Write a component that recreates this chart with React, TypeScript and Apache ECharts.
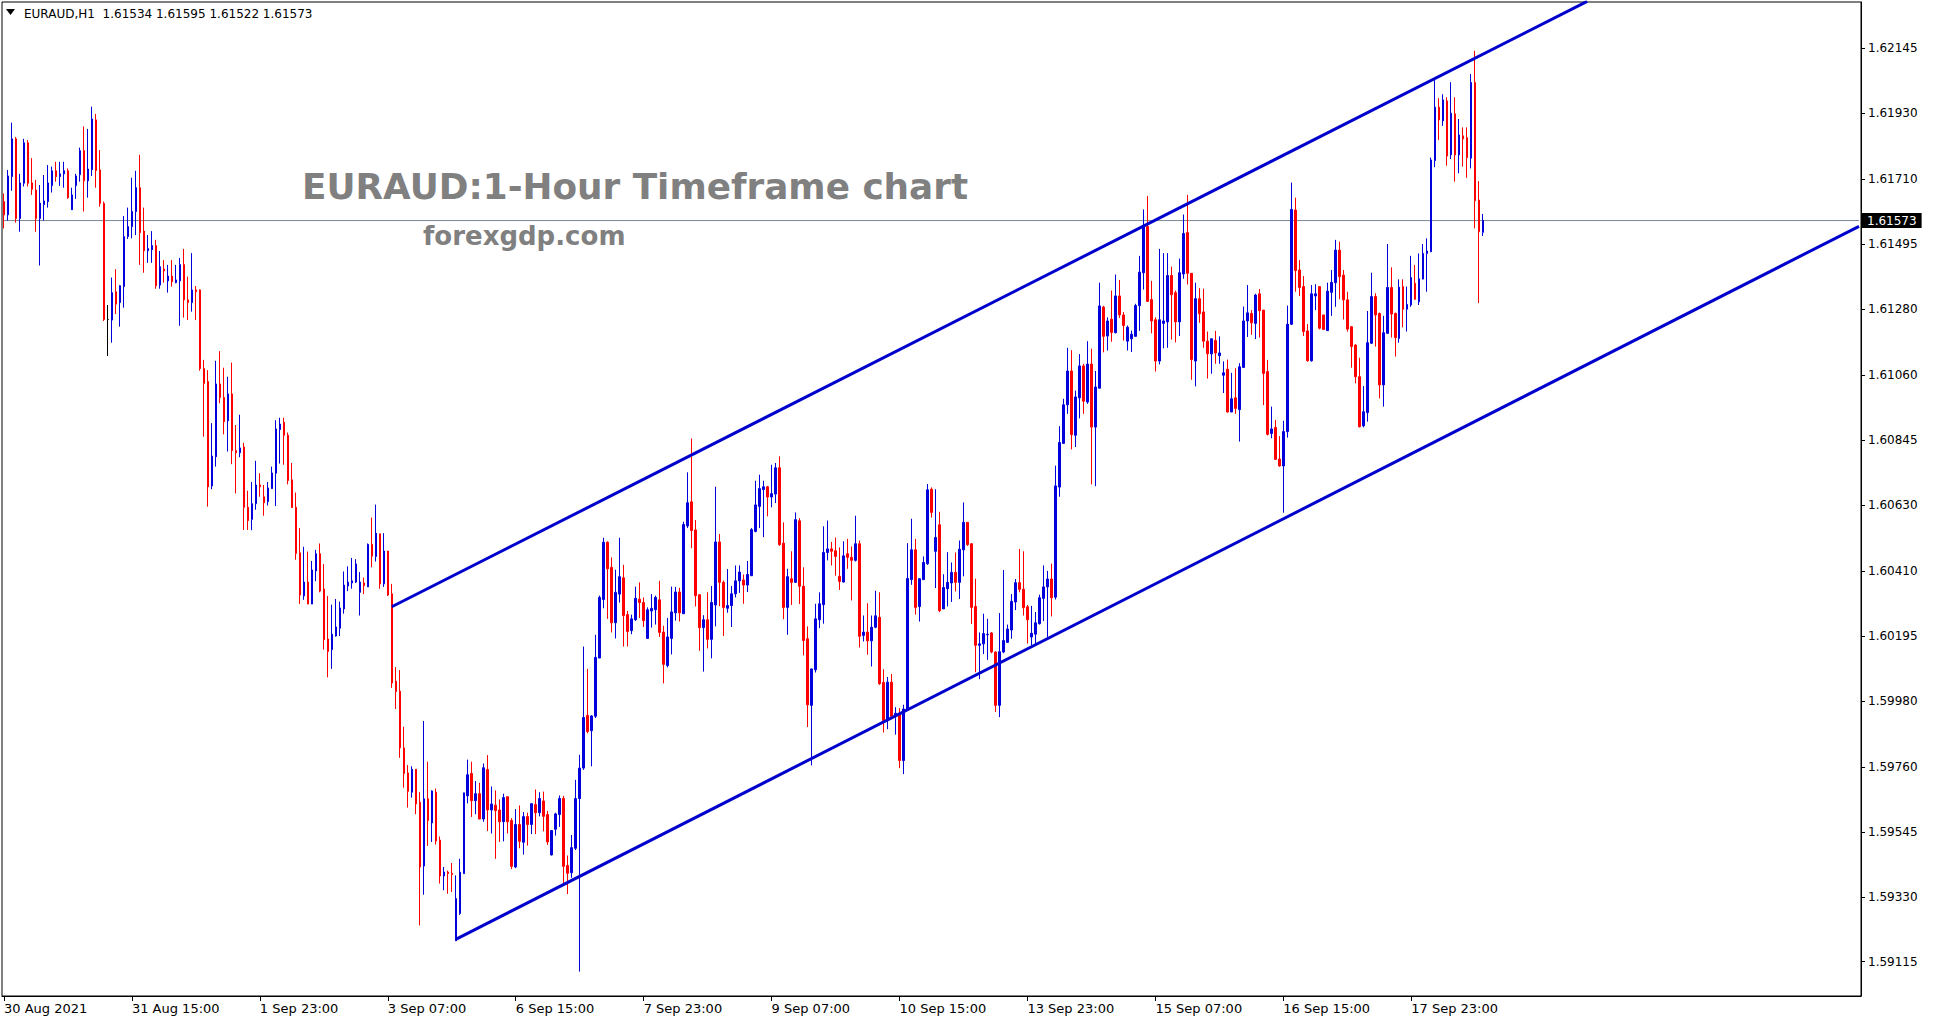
import React, { useEffect, useRef } from "react";
import * as echarts from "echarts";

// ---- OHLC data, one tuple per H1 bar: [open, high, low, close] ----
const week1: number[][] = [
  [1.61636,1.61663,1.61547,1.61592],[1.61592,1.61741,1.61573,1.61721],[1.61719,1.61898,1.61672,1.61844],[1.61844,1.61850,1.61566,1.61580],
  [1.61580,1.61728,1.61536,1.61698],[1.61697,1.61844,1.61686,1.61831],[1.61831,1.61840,1.61686,1.61697],[1.61698,1.61780,1.61658,1.61677],
  [1.61674,1.61708,1.61536,1.61580],[1.61580,1.61691,1.61424,1.61631],[1.61626,1.61724,1.61573,1.61638],[1.61636,1.61757,1.61616,1.61698],
  [1.61689,1.61752,1.61666,1.61738],[1.61738,1.61768,1.61702,1.61719],[1.61719,1.61768,1.61688,1.61728],[1.61728,1.61768,1.61682,1.61738],
  [1.61738,1.61746,1.61645,1.61649],[1.61609,1.61682,1.61609,1.61658],[1.61689,1.61728,1.61645,1.61721],[1.61725,1.61815,1.61702,1.61805],
  [1.61805,1.61885,1.61603,1.61705],[1.61705,1.61877,1.61649,1.61744],[1.61742,1.61951,1.61721,1.61910],[1.61907,1.61927,1.61682,1.61739],
  [1.61741,1.61807,1.61619,1.61630],[1.61630,1.61636,1.61240,1.61245],[1.61245,1.61293,1.61124,1.61245],[1.61243,1.61384,1.61168,1.61334],
  [1.61337,1.61412,1.61263,1.61296],[1.61301,1.61359,1.61221,1.61357],[1.61354,1.61588,1.61284,1.61520],[1.61520,1.61616,1.61512,1.61553],
  [1.61553,1.61715,1.61514,1.61603],[1.61603,1.61738,1.61525,1.61682],[1.61682,1.61791,1.61426,1.61533],[1.61538,1.61616,1.61400,1.61473],
  [1.61473,1.61525,1.61433,1.61480],[1.61476,1.61538,1.61433,1.61490],[1.61490,1.61509,1.61347,1.61357],[1.61359,1.61472,1.61347,1.61420],
  [1.61412,1.61442,1.61367,1.61406],[1.61373,1.61426,1.61334,1.61389],[1.61389,1.61442,1.61354,1.61370],[1.61367,1.61426,1.61365,1.61376],
  [1.61373,1.61449,1.61224,1.61427],[1.61427,1.61479,1.61251,1.61310],[1.61310,1.61387,1.61243,1.61301],[1.61301,1.61465,1.61271,1.61343],
  [1.61343,1.61356,1.61243,1.61337],[1.61343,1.61345,1.61075,1.61082],[1.61082,1.61111,1.60856,1.61033],[1.61039,1.61077,1.60624,1.60690],
  [1.60693,1.60901,1.60682,1.60792],[1.60790,1.61108,1.60757,1.61031],[1.61031,1.61140,1.60967,1.60986],[1.60986,1.61085,1.60864,1.60906],
  [1.60909,1.61055,1.60807,1.60998],[1.60998,1.61102,1.60765,1.60810],[1.60810,1.60895,1.60668,1.60803],[1.60803,1.60929,1.60788,1.60819],
  [1.60822,1.60836,1.60547,1.60622],[1.60622,1.60677,1.60547,1.60578],[1.60582,1.60706,1.60546,1.60634],[1.60634,1.60776,1.60614,1.60696],
  [1.60696,1.60735,1.60657,1.60690],[1.60657,1.60696,1.60594,1.60637],[1.60641,1.60706,1.60628,1.60686],[1.60684,1.60757,1.60684,1.60736],
  [1.60735,1.60911,1.60626,1.60882],[1.60880,1.60919,1.60767,1.60898],[1.60904,1.60919,1.60763,1.60861],[1.60861,1.60870,1.60698,1.60711],
  [1.60713,1.60769,1.60621,1.60621],[1.60622,1.60671,1.60448,1.60469],[1.60471,1.60553,1.60301,1.60331],[1.60328,1.60491,1.60315,1.60374],
  [1.60374,1.60475,1.60301,1.60301],[1.60301,1.60444,1.60301,1.60414],[1.60411,1.60481,1.60377,1.60468],[1.60468,1.60502,1.60340,1.60344],
  [1.60351,1.60434,1.60150,1.60183],[1.60185,1.60328,1.60058,1.60144],[1.60150,1.60299,1.60086,1.60201],[1.60195,1.60318,1.60193,1.60225],
  [1.60221,1.60309,1.60195,1.60288],[1.60285,1.60409,1.60269,1.60364],[1.60361,1.60426,1.60344,1.60374],[1.60371,1.60454,1.60352,1.60378],
  [1.60374,1.60450,1.60371,1.60434],[1.60340,1.60407,1.60263,1.60374],[1.60371,1.60389,1.60334,1.60362],[1.60358,1.60502,1.60358,1.60499],
  [1.60499,1.60588,1.60423,1.60460],[1.60459,1.60631,1.60442,1.60536],[1.60534,1.60534,1.60352,1.60368],[1.60368,1.60536,1.60358,1.60477],
  [1.60477,1.60477,1.60328,1.60331],[1.60335,1.60368,1.60023,1.60039],[1.60045,1.60092,1.59953,1.60011],[1.60012,1.60082,1.59791,1.59824],
  [1.59824,1.59894,1.59692,1.59739],[1.59741,1.59767,1.59626,1.59680],[1.59677,1.59763,1.59659,1.59753],[1.59753,1.59753,1.59604,1.59638],
  [1.59644,1.59677,1.59235,1.59429],[1.59432,1.59913,1.59337,1.59655],[1.59655,1.59778,1.59499,1.59583],[1.59575,1.59683,1.59512,1.59681],
  [1.59677,1.59689,1.59503,1.59515],[1.59518,1.59530,1.59374,1.59399],[1.59399,1.59429,1.59352,1.59412],[1.59412,1.59417,1.59340,1.59407],
  [1.59408,1.59442,1.59346,1.59404],
];
const week2: number[][] = [
  [1.59184,1.59401,1.59184,1.59324],[1.59275,1.59456,1.59270,1.59412],[1.59407,1.59675,1.59407,1.59675],[1.59665,1.59785,1.59640,1.59735],
  [1.59739,1.59778,1.59595,1.59649],[1.59649,1.59714,1.59604,1.59672],[1.59672,1.59708,1.59588,1.59588],[1.59588,1.59772,1.59579,1.59758],
  [1.59752,1.59800,1.59548,1.59618],[1.59618,1.59696,1.59540,1.59638],[1.59634,1.59683,1.59456,1.59616],[1.59618,1.59653,1.59512,1.59579],
  [1.59579,1.59672,1.59514,1.59659],[1.59662,1.59662,1.59540,1.59579],[1.59583,1.59591,1.59422,1.59431],[1.59429,1.59621,1.59425,1.59570],
  [1.59570,1.59633,1.59491,1.59514],[1.59511,1.59611,1.59470,1.59596],[1.59596,1.59609,1.59500,1.59570],[1.59570,1.59639,1.59538,1.59639],
  [1.59636,1.59686,1.59538,1.59609],[1.59609,1.59677,1.59597,1.59656],[1.59648,1.59679,1.59547,1.59597],[1.59603,1.59615,1.59502,1.59512],
  [1.59469,1.59550,1.59467,1.59550],[1.59554,1.59609,1.59533,1.59605],[1.59603,1.59666,1.59562,1.59656],[1.59656,1.59665,1.59370,1.59431],
  [1.59434,1.59467,1.59339,1.59408],[1.59410,1.59535,1.59393,1.59493],[1.59491,1.59718,1.59485,1.59656],[1.59656,1.59801,1.59082,1.59757],
  [1.59757,1.60160,1.59751,1.59925],[1.59932,1.60086,1.59872,1.59878],[1.59881,1.59932,1.59763,1.59930],[1.59929,1.60199,1.59923,1.60124],
  [1.60122,1.60329,1.60122,1.60323],[1.60316,1.60521,1.60287,1.60506],[1.60506,1.60509,1.60252,1.60418],[1.60423,1.60456,1.60207,1.60239],
  [1.60239,1.60415,1.60187,1.60340],[1.60334,1.60521,1.60306,1.60392],[1.60388,1.60431,1.60160,1.60263],[1.60266,1.60278,1.60160,1.60210],
  [1.60213,1.60266,1.60201,1.60252],[1.60249,1.60359,1.60245,1.60320],[1.60317,1.60373,1.60255,1.60306],[1.60306,1.60323,1.60225,1.60246],
  [1.60187,1.60290,1.60187,1.60282],[1.60278,1.60334,1.60223,1.60287],[1.60282,1.60329,1.60233,1.60323],[1.60315,1.60378,1.60192,1.60207],
  [1.60208,1.60229,1.60038,1.60101],[1.60097,1.60255,1.60091,1.60192],[1.60187,1.60359,1.60134,1.60275],[1.60272,1.60358,1.60246,1.60341],
  [1.60341,1.60355,1.60243,1.60272],[1.60269,1.60574,1.60269,1.60565],[1.60560,1.60738,1.60553,1.60637],[1.60640,1.60850,1.60486,1.60545],
  [1.60547,1.60580,1.60293,1.60329],[1.60332,1.60332,1.60146,1.60223],[1.60223,1.60264,1.60077,1.60249],[1.60249,1.60340,1.60154,1.60184],
  [1.60184,1.60361,1.60121,1.60306],[1.60298,1.60690,1.60227,1.60507],[1.60507,1.60533,1.60294,1.60373],[1.60373,1.60379,1.60195,1.60290],
  [1.60287,1.60417,1.60272,1.60296],[1.60296,1.60361,1.60225,1.60335],[1.60335,1.60429,1.60323,1.60378],[1.60378,1.60429,1.60338,1.60407],
  [1.60381,1.60399,1.60302,1.60364],[1.60364,1.60444,1.60341,1.60399],[1.60395,1.60553,1.60395,1.60548],[1.60542,1.60710,1.60539,1.60630],
  [1.60625,1.60730,1.60553,1.60684],[1.60681,1.60710,1.60523,1.60690],[1.60690,1.60693,1.60592,1.60656],[1.60656,1.60763,1.60622,1.60667],
  [1.60666,1.60769,1.60636,1.60753],[1.60753,1.60791,1.60494,1.60498],[1.60503,1.60572,1.60251,1.60290],[1.60290,1.60418,1.60199,1.60392],
  [1.60385,1.60476,1.60298,1.60373],[1.60373,1.60605,1.60371,1.60581],[1.60577,1.60586,1.60301,1.60360],[1.60360,1.60423,1.60131,1.60180],
  [1.60186,1.60227,1.59893,1.59967],[1.59965,1.60086,1.59766,1.60086],[1.60083,1.60302,1.60074,1.60252],[1.60249,1.60340,1.60221,1.60302],
  [1.60299,1.60559,1.60236,1.60472],[1.60472,1.60578,1.60446,1.60484],[1.60484,1.60507,1.60429,1.60476],[1.60478,1.60522,1.60395,1.60459],
  [1.60393,1.60489,1.60348,1.60376],[1.60374,1.60509,1.60373,1.60461],[1.60468,1.60517,1.60418,1.60456],[1.60456,1.60492,1.60313,1.60446],
  [1.60446,1.60594,1.60442,1.60501],[1.60501,1.60512,1.60157,1.60194],[1.60197,1.60263,1.60177,1.60208],[1.60208,1.60304,1.60133,1.60179],
  [1.60179,1.60263,1.60094,1.60224],[1.60224,1.60345,1.60221,1.60262],[1.60257,1.60340,1.60033,1.60037],[1.60041,1.60085,1.59875,1.59915],
  [1.59919,1.60059,1.59886,1.60042],[1.60042,1.60069,1.59919,1.59928],[1.59928,1.59959,1.59868,1.59939],[1.59939,1.59956,1.59757,1.59782],
  [1.59782,1.59967,1.59737,1.59953],[1.59953,1.60503,1.59948,1.60386],[1.60382,1.60584,1.60365,1.60481],[1.60481,1.60517,1.60266,1.60290],
  [1.60293,1.60387,1.60243,1.60385],[1.60382,1.60459,1.60382,1.60439],[1.60435,1.60699,1.60431,1.60680],[1.60682,1.60688,1.60588,1.60605],
];
const week3: number[][] = [
  [1.60476,1.60682,1.60354,1.60522],[1.60564,1.60607,1.60274,1.60279],[1.60285,1.60400,1.60285,1.60356],[1.60352,1.60473,1.60293,1.60373],
  [1.60371,1.60439,1.60308,1.60406],[1.60406,1.60472,1.60343,1.60373],[1.60373,1.60512,1.60318,1.60483],[1.60481,1.60638,1.60393,1.60572],
  [1.60572,1.60572,1.60494,1.60498],[1.60501,1.60503,1.60235,1.60290],[1.60293,1.60385,1.60075,1.60164],[1.60164,1.60207,1.60052,1.60169],
  [1.60169,1.60269,1.60135,1.60203],[1.60199,1.60252,1.60116,1.60201],[1.60205,1.60208,1.60138,1.60142],[1.60142,1.60144,1.59943,1.59965],
  [1.59965,1.60271,1.59926,1.60143],[1.60142,1.60414,1.60138,1.60180],[1.60174,1.60233,1.60172,1.60218],[1.60215,1.60334,1.60186,1.60310],
  [1.60308,1.60384,1.60281,1.60372],[1.60372,1.60484,1.60340,1.60350],[1.60350,1.60476,1.60263,1.60289],[1.60292,1.60298,1.60170,1.60249],
  [1.60192,1.60295,1.60165,1.60204],[1.60201,1.60275,1.60168,1.60239],[1.60236,1.60332,1.60233,1.60322],[1.60320,1.60429,1.60245,1.60358],
  [1.60358,1.60411,1.60192,1.60384],[1.60384,1.60435,1.60260,1.60322],[1.60324,1.60760,1.60316,1.60693],[1.60689,1.60891,1.60657,1.60837],
  [1.60834,1.60982,1.60834,1.60962],[1.60962,1.61151,1.60932,1.61074],[1.61074,1.61143,1.60814,1.60863],[1.60861,1.61009,1.60822,1.60988],
  [1.60985,1.61130,1.60917,1.61091],[1.61091,1.61098,1.60932,1.60974],[1.60971,1.61173,1.60965,1.61097],[1.61097,1.61148,1.60698,1.60888],
  [1.60888,1.61074,1.60692,1.61021],[1.61017,1.61367,1.61017,1.61290],[1.61286,1.61290,1.61136,1.61189],[1.61190,1.61252,1.61142,1.61240],
  [1.61246,1.61341,1.61171,1.61202],[1.61201,1.61394,1.61199,1.61323],[1.61323,1.61376,1.61250,1.61260],[1.61260,1.61270,1.61175,1.61225],
  [1.61173,1.61225,1.61142,1.61219],[1.61181,1.61208,1.61137,1.61196],[1.61189,1.61297,1.61187,1.61291],[1.61291,1.61456,1.61207,1.61402],
  [1.61400,1.61610,1.61344,1.61556],[1.61554,1.61655,1.61303,1.61305],[1.61311,1.61373,1.61199,1.61240],[1.61244,1.61252,1.61072,1.61107],
  [1.61107,1.61479,1.61096,1.61244],[1.61232,1.61465,1.61149,1.61240],[1.61237,1.61465,1.61151,1.61391],[1.61391,1.61420,1.61178,1.61327],
  [1.61334,1.61341,1.61169,1.61237],[1.61237,1.61447,1.61190,1.61400],[1.61396,1.61593,1.61380,1.61530],[1.61533,1.61658,1.61361,1.61398],
  [1.61398,1.61398,1.61045,1.61112],[1.61107,1.61367,1.61023,1.61314],[1.61314,1.61349,1.61234,1.61264],[1.61270,1.61347,1.61151,1.61173],
  [1.61173,1.61205,1.61049,1.61131],[1.61131,1.61181,1.61065,1.61181],[1.61175,1.61207,1.61098,1.61134],[1.61125,1.61189,1.61098,1.61134],
  [1.61060,1.61106,1.61001,1.61068],[1.61080,1.61112,1.60936,1.60938],[1.60938,1.61068,1.60938,1.60982],[1.60985,1.61083,1.60932,1.60950],
  [1.60946,1.61100,1.60840,1.61088],[1.61086,1.61288,1.61084,1.61240],[1.61240,1.61359,1.61187,1.61267],[1.61265,1.61276,1.61194,1.61234],
  [1.61232,1.61330,1.61180,1.61326],[1.61330,1.61346,1.61185,1.61274],[1.61276,1.61276,1.60961,1.61066],[1.61072,1.61111,1.60860,1.60864],
  [1.60867,1.60956,1.60851,1.60882],[1.60887,1.60912,1.60779,1.60781],[1.60782,1.60858,1.60757,1.60759],[1.60759,1.60909,1.60604,1.60873],
  [1.60873,1.61291,1.60853,1.61229],[1.61229,1.61699,1.61227,1.61610],[1.61608,1.61649,1.61337,1.61407],[1.61409,1.61442,1.61323,1.61351],
  [1.61354,1.61389,1.61190,1.61205],[1.61207,1.61230,1.61105,1.61108],[1.61108,1.61359,1.61105,1.61330],[1.61323,1.61362,1.61276,1.61330],
  [1.61354,1.61354,1.61212,1.61216],[1.61260,1.61260,1.61210,1.61212],[1.61208,1.61367,1.61208,1.61339],[1.61335,1.61409,1.61257,1.61368],
  [1.61367,1.61509,1.61287,1.61475],[1.61475,1.61503,1.61312,1.61387],[1.61392,1.61409,1.61245,1.61310],[1.61310,1.61337,1.61205,1.61213],
  [1.61221,1.61223,1.61085,1.61155],[1.61160,1.61163,1.61033,1.61055],[1.61055,1.61118,1.60887,1.60889],[1.60892,1.61024,1.60887,1.60939],
  [1.60936,1.61273,1.60906,1.61168],[1.61166,1.61400,1.61164,1.61321],[1.61321,1.61332,1.61155,1.61260],[1.61265,1.61268,1.60983,1.61028],
  [1.61028,1.61257,1.60956,1.61201],[1.61199,1.61495,1.61197,1.61351],[1.61351,1.61418,1.61185,1.61263],[1.61265,1.61268,1.61122,1.61185],
  [1.61182,1.61378,1.61168,1.61352],[1.61354,1.61378,1.61219,1.61279],[1.61279,1.61354,1.61205,1.61295],[1.61293,1.61456,1.61287,1.61384],
];
const week4: number[][] = [
  [1.61365,1.61426,1.61310,1.61312],[1.61304,1.61464,1.61293,1.61380],[1.61379,1.61495,1.61378,1.61464],[1.61464,1.61514,1.61337,1.61472],
  [1.61470,1.61782,1.61468,1.61774],[1.61772,1.62039,1.61750,1.61949],[1.61949,1.61979,1.61840,1.61907],[1.61904,1.61992,1.61887,1.61973],
  [1.61970,1.61982,1.61755,1.61787],[1.61791,1.62032,1.61777,1.61929],[1.61927,1.61982,1.61702,1.61791],[1.61791,1.61910,1.61730,1.61857],
  [1.61854,1.61882,1.61752,1.61844],[1.61848,1.61882,1.61715,1.61782],[1.61780,1.62059,1.61746,1.62031],[1.62031,1.62136,1.61547,1.61639],
  [1.61641,1.61704,1.61299,1.61536],[1.61534,1.61595,1.61522,1.61573],
];
const dojiBars = [26];

// ---- axis / annotation values ----
const yTickValues = [1.59115, 1.5933, 1.59545, 1.5976, 1.5998, 1.60195, 1.6041, 1.6063, 1.60845, 1.6106, 1.6128, 1.61495, 1.6171, 1.6193, 1.62145];
const yMin = 1.59001;
const yMax = 1.62298;
const currentPrice = 1.61573;
const firstBarLabel = "30 Aug 2021";
const xTickStep = 32;
const lastLabelBar = 352;
const slotCount = 465;
const upperTrend = [[97, 1.60292], [396, 1.623]];
const lowerTrend = [[113, 1.59189], [464, 1.61554]];
const priceLine = [[0, currentPrice], [slotCount - 1, currentPrice]];
const headerText = "EURAUD,H1  1.61534 1.61595 1.61522 1.61573";
const titleText = "EURAUD:1-Hour Timeframe chart";
const siteText = "forexgdp.com";

const MONTHS = ["Jan","Feb","Mar","Apr","May","Jun","Jul","Aug","Sep","Oct","Nov","Dec"];
function buildCategories(count: number): string[] {
  const out: string[] = [];
  let t = Date.UTC(2021, 7, 30, 7);
  while (out.length < count) {
    const d = new Date(t);
    const wd = d.getUTCDay();
    if (wd !== 0 && wd !== 6) {
      out.push(`${d.getUTCDate()} ${MONTHS[d.getUTCMonth()]} ${String(d.getUTCHours()).padStart(2, "0")}:00`);
    }
    t += 3600000;
  }
  return out;
}

const BLUE = "#0000dd";
const RED = "#ff0000";
const LINE_BLUE = "#0000cd";
const FONT = "'DejaVu Sans', Tahoma, sans-serif";

export default function App() {
  const ref = useRef<HTMLDivElement>(null);
  useEffect(() => {
    if (!ref.current) return;
    const chart = echarts.init(ref.current, null, { renderer: "svg" });
    const categories = buildCategories(slotCount);
    const candles = [...week1, ...week2, ...week3, ...week4];
    const seriesData = candles.map(([o, h, l, c], i) =>
      dojiBars.includes(i)
        ? { value: [o, c, l, h], itemStyle: { color: "#000", color0: "#000", borderColor: "#000", borderColor0: "#000" } }
        : [o, c, l, h]
    );
    const showIdx = (i: number) => i % xTickStep === 0 && i <= lastLabelBar;

    chart.setOption({
      animation: false,
      backgroundColor: "#ffffff",
      grid: {
        left: 2, top: 2, right: 72, bottom: 27,
        show: true, borderColor: "#000", borderWidth: 1,
        containLabel: false, outerBoundsMode: "none",
      },
      xAxis: {
        type: "category",
        data: categories,
        boundaryGap: true,
        axisLine: { show: true, lineStyle: { color: "#000", width: 1 } },
        axisTick: { show: true, interval: (i: number) => showIdx(i), alignWithLabel: true, length: 5, lineStyle: { color: "#000" } },
        axisLabel: {
          show: true,
          interval: (i: number) => showIdx(i),
          formatter: (v: string, i: number) => (i === 0 ? firstBarLabel : v),
          align: "left",
          margin: 6,
          fontSize: 13,
          fontFamily: FONT,
          color: "#000",
        },
        splitLine: { show: false },
      },
      yAxis: [
        {
          type: "value",
          position: "right",
          min: yMin,
          max: yMax,
          axisLine: { show: true, lineStyle: { color: "#000", width: 1 } },
          axisTick: { show: true, length: 4, customValues: yTickValues, lineStyle: { color: "#000" } },
          axisLabel: {
            show: true,
            customValues: yTickValues,
            formatter: (v: number) => v.toFixed(5),
            margin: 7,
            fontSize: 12,
            fontFamily: FONT,
            color: "#000",
          },
          splitLine: { show: false },
        },
        {
          type: "value",
          position: "right",
          min: yMin,
          max: yMax,
          axisLine: { show: false },
          axisTick: { show: false },
          axisLabel: {
            show: true,
            customValues: [currentPrice],
            formatter: (v: number) => v.toFixed(5),
            margin: 1,
            fontSize: 12,
            fontFamily: FONT,
            color: "#fff",
            backgroundColor: "#000",
            padding: [2, 5, 1, 5],
          },
          splitLine: { show: false },
        },
      ],
      series: [
        {
          type: "line",
          data: priceLine,
          symbol: "none",
          silent: true,
          lineStyle: { color: "#778899", width: 1 },
          z: 1,
        },
        {
          type: "candlestick",
          data: seriesData,
          barWidth: 2,
          itemStyle: { color: BLUE, color0: RED, borderColor: BLUE, borderColor0: RED, borderWidth: 1 },
          z: 2,
        },
        {
          type: "line",
          data: upperTrend,
          symbol: "none",
          silent: true,
          lineStyle: { color: LINE_BLUE, width: 3 },
          z: 3,
        },
        {
          type: "line",
          data: lowerTrend,
          symbol: "none",
          silent: true,
          lineStyle: { color: LINE_BLUE, width: 3 },
          z: 3,
        },
      ],
      graphic: [
        { type: "polygon", shape: { points: [[6, 9], [15, 9], [10.5, 15]] }, style: { fill: "#000" } },
        { type: "text", x: 24, y: 14, style: { text: headerText, fontSize: 12, fontFamily: FONT, fill: "#000", verticalAlign: "middle" } },
        { type: "text", x: 302, y: 186, style: { text: titleText, fontSize: 35.8, fontWeight: "bold", fontFamily: FONT, fill: "#808080", verticalAlign: "middle" } },
        { type: "text", x: 423, y: 236, style: { text: siteText, fontSize: 26, fontWeight: "bold", fontFamily: FONT, fill: "#808080", verticalAlign: "middle" } },
      ],
    });
    return () => chart.dispose();
  }, []);
  return <div ref={ref} style={{ position: "fixed", left: 0, top: 0, width: 1933, height: 1023, background: "#fff" }} />;
}
